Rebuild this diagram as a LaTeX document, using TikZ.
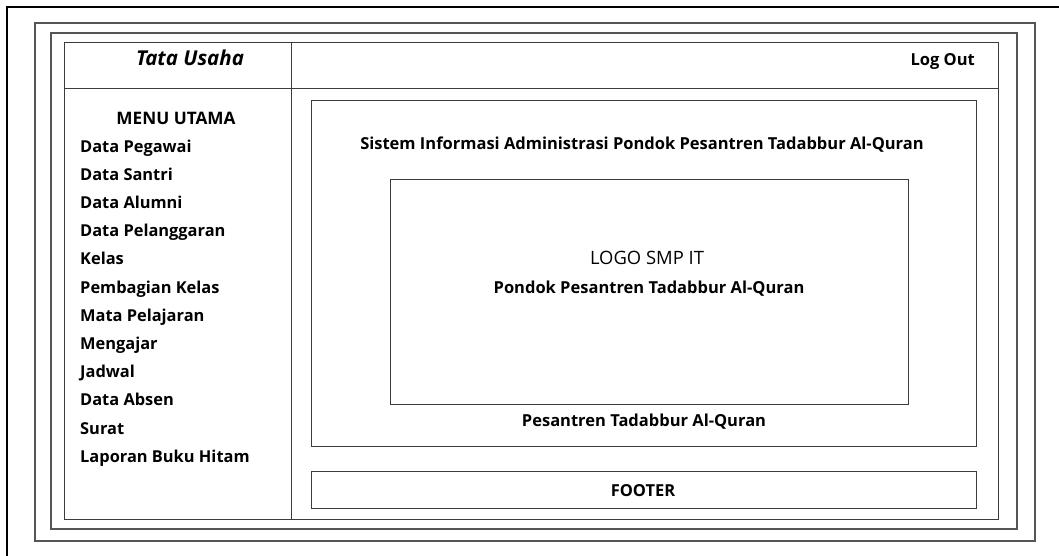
\documentclass[tikz,border=0pt]{standalone}
\usepackage{fontspec}
\setmainfont{Open Sans}
\usepackage{tikz}
\usetikzlibrary{positioning}
\definecolor{framegray}{RGB}{85,85,85}
\definecolor{panelgray}{RGB}{60,60,60}
\tikzset{
    outerframe/.style={draw=black, line width=2pt},
    frame/.style={draw=framegray, line width=1.4pt},
    panel/.style={draw=panelgray, line width=1pt},
    menuitem/.style={anchor=base west, inner sep=0pt, font=\bfseries\fontsize{16.4}{18}\selectfont},
    boldtext/.style={anchor=base, inner sep=0pt, font=\bfseries\fontsize{16.5}{18}\selectfont},
    plaintext/.style={anchor=base, inner sep=0pt, font=\fontsize{18.4}{20}\selectfont},
}

\begin{document}
\begin{tikzpicture}[x=1pt, y=-1pt]
    \useasboundingbox (0,0) rectangle (1059,555);

    % frames
    \draw[outerframe] (7,7) rectangle (1075,575);
    \draw[frame] (35,23) rectangle (1035,541);
    \draw[frame] (51,33) rectangle (1017,529);

    % layout
    \draw[panel] (64,42) rectangle (998,519);
    \draw[panel] (64,88) -- (998,88);
    \draw[panel] (291,42) -- (291,519);
    \draw[panel] (311,100) rectangle (976,446);
    \draw[panel] (311,471) rectangle (976,508);
    \draw[panel] (390,179) rectangle (908,404);

    % header
    \node[boldtext, font=\bfseries\itshape\fontsize{20.5}{22}\selectfont] (tu) at (190,65) {Tata Usaha};
    \node[boldtext, anchor=base east] (logout) at (975,65) {Log Out};

    % menu
    \node[boldtext, font=\bfseries\fontsize{17.2}{19}\selectfont] (menu) at (176,124) {MENU UTAMA};
    \foreach \item [count=\i] in {Data Pegawai, Data Santri, Data Alumni, Data Pelanggaran,
        Kelas, Pembagian Kelas, Mata Pelajaran, Mengajar, Jadwal, Data Absen,
        Surat, Laporan Buku Hitam}
        \node[menuitem] (m\i) at (80,{152+28.2*(\i-1)}) {\item};

    % content
    \node[boldtext] (judul) at (642,149) {Sistem Informasi Administrasi Pondok Pesantren Tadabbur Al-Quran};
    \node[plaintext] (logo) at (647,264) {LOGO SMP IT};
    \node[boldtext] (pondok) at (649,293) {Pondok Pesantren Tadabbur Al-Quran};
    \node[boldtext] (pesantren) at (644,426) {Pesantren Tadabbur Al-Quran};
    \node[boldtext] (footer) at (643,496) {FOOTER};
\end{tikzpicture}
\end{document}
